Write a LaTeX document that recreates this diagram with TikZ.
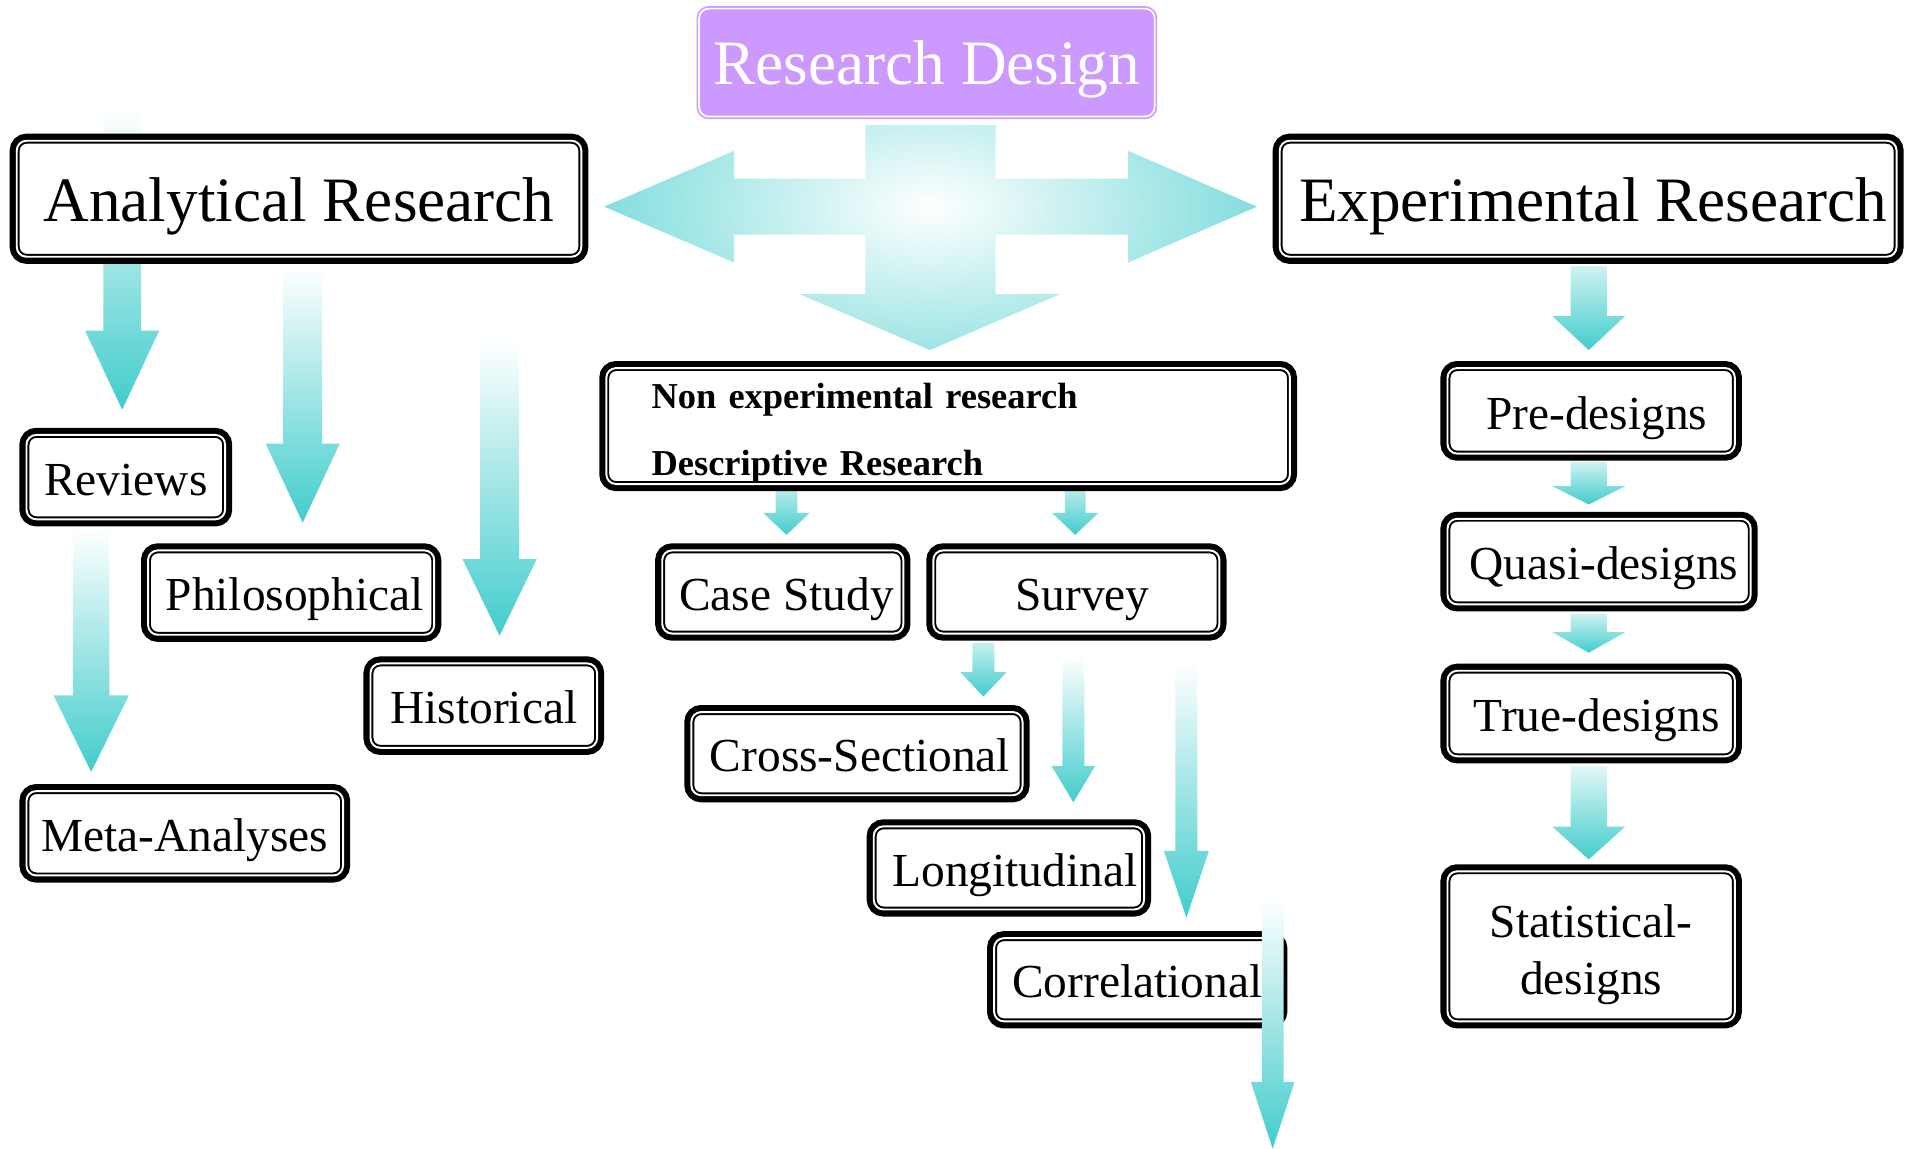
\documentclass[tikz,border=0pt]{standalone}
\usepackage{fontspec}
\setmainfont{Liberation Serif}
\usetikzlibrary{positioning}
\definecolor{arrowteal}{RGB}{66,204,204}
\definecolor{lavender}{RGB}{204,153,255}
\tikzset{
  dbox/.style = {
    rectangle,
    rounded corners = 8pt,
    inner sep = 0pt,
    fill = white,
    draw = black,
    line width = 4.8pt,
    preaction = {draw = black, line width = 11.6pt},
    postaction = {draw = white, line width = 1.6pt},
    text height = 30pt,
    text depth = 0pt,
    font = \fontsize{39}{47}\selectfont
  },
  bigbox/.style = {
    dbox,
    text height = 37pt,
    font = \fontsize{52}{60}\selectfont
  },
  title/.style = {
    rectangle,
    rounded corners = 8pt,
    fill = lavender,
    draw = lavender,
    line width = 1.4pt,
    double = white,
    double distance = 1.4pt,
    text = white,
    minimum width = 374.8pt,
    minimum height = 88.8pt,
    text height = 36pt,
    text depth = 0pt,
    font = \fontsize{52}{60}\selectfont
  },
}
% x, top, head base, tip, half shaft, half head, top colour
\newcommand{\flowarrow}[7]{
  \shade[top color = arrowteal!#7, bottom color = arrowteal]
    ({#1-#5},#2) -- ({#1+#5},#2) -- ({#1+#5},#3) -- ({#1+#6},#3)
    -- (#1,#4) -- ({#1-#6},#3) -- ({#1-#5},#3) -- cycle;
}

\begin{document}
\begin{tikzpicture}[x = 1pt, y = -1pt]
  \useasboundingbox (0,0) rectangle (1568,945);

  % cross below the title
  \begin{scope}
    \clip (497,170) -- (604,124) -- (604,147) -- (712,147) -- (712,103)
      -- (819,103) -- (819,147) -- (928,147) -- (928,124) -- (1034,170)
      -- (928,216) -- (928,193) -- (819,193) -- (819,242) -- (872,242)
      -- (765,288) -- (658,242) -- (712,242) -- (712,193) -- (604,193)
      -- (604,216) -- cycle;
    \shade[inner color = white, outer color = arrowteal]
      (765,170) ellipse [x radius = 410pt, y radius = 230pt];
  \end{scope}

  % arrows
  \flowarrow{100.5}{90}{272}{337}{15.5}{30.5}{0}
  \flowarrow{249}{220}{365}{430}{16}{30.5}{0}
  \flowarrow{411}{280}{460}{523}{16}{30.5}{0}
  \flowarrow{75}{435}{572}{635}{15}{31}{0}
  \flowarrow{647}{404}{422}{440}{9}{19}{40}
  \flowarrow{884.5}{404}{422}{440}{8.5}{19}{40}
  \flowarrow{809}{529}{553}{573}{9}{19}{30}
  \flowarrow{883}{540}{630}{660}{9}{18}{0}
  \flowarrow{976}{545}{700}{755}{9}{18.5}{0}
  \flowarrow{1307}{219}{260}{288}{15}{30}{25}
  \flowarrow{1307}{380}{400}{415}{15}{30}{25}
  \flowarrow{1307}{505}{520}{537}{15}{30}{25}
  \flowarrow{1307}{630}{680}{707}{15}{30}{15}

  \node[title] (rd) at (762.5,51.5) {Research Design};

  \node[bigbox, minimum width = 464.4pt, minimum height = 95.4pt]
    (ana) at (246,163.5) {Analytical Research};
  \node[bigbox, minimum width = 507.4pt, minimum height = 95.4pt]
    (exp) at (1306.5,163.5) {\hspace{8pt}Experimental Research};

  \node[dbox, minimum width = 163.4pt, minimum height = 69.4pt]
    (rev) at (103.5,392.5) {Reviews};
  \node[dbox, minimum width = 235.4pt, minimum height = 69.4pt]
    (phi) at (239.5,487.5) {\hspace{6pt}Philosophical};
  \node[dbox, minimum width = 186.4pt, minimum height = 69.4pt]
    (his) at (398,580.5) {Historical};
  \node[dbox, minimum width = 260.4pt, minimum height = 69.4pt]
    (meta) at (152,685.5) {Meta-Analyses};

  \node[dbox, minimum width = 562.4pt, minimum height = 95.4pt,
    align = left, text width = 488pt, text height = 20pt, text depth = 49pt,
    font = \bfseries\fontsize{30}{55}\selectfont]
    (non) at (780,350.5) {Non experimental research\\Descriptive Research};
  \node[dbox, minimum width = 198.4pt, minimum height = 68.4pt]
    (case) at (644,487) {\hspace{6pt}Case Study};
  \node[dbox, minimum width = 235.4pt, minimum height = 68.4pt]
    (sur) at (885.5,487) {\hspace{10pt}Survey};
  \node[dbox, minimum width = 272.4pt, minimum height = 68.4pt]
    (cro) at (705,620) {\hspace{5pt}Cross-Sectional};
  \node[dbox, minimum width = 222.4pt, minimum height = 68.4pt]
    (lon) at (830,714) {\hspace{10pt}Longitudinal};
  \node[dbox, minimum width = 235.4pt, minimum height = 68.4pt]
    (cor) at (935.5,806) {Correlational};
  \flowarrow{1047}{740}{890}{945}{9}{18}{0}

  \node[dbox, minimum width = 236.4pt, minimum height = 70.4pt]
    (pre) at (1309,338) {\hspace{9pt}Pre-designs};
  \node[dbox, minimum width = 249.4pt, minimum height = 70.4pt]
    (qua) at (1315.5,462) {\hspace{8pt}Quasi-designs};
  \node[dbox, minimum width = 236.4pt, minimum height = 70.4pt]
    (tru) at (1309,587) {\hspace{9pt}True-designs};
  \node[dbox, minimum width = 236.4pt, minimum height = 123.4pt,
    align = center, text height = 79pt, text depth = 0pt]
    (sta) at (1309,778.5) {Statistical-\\designs};
\end{tikzpicture}
\end{document}
